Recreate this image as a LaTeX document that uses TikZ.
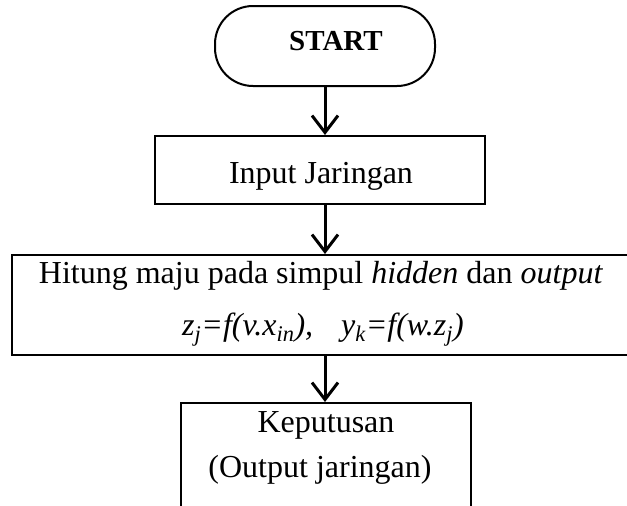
\documentclass[tikz,border=0pt]{standalone}
\usepackage{fontspec}
\setmainfont{Liberation Serif}
\usetikzlibrary{arrows.meta}
\begin{document}
\begin{tikzpicture}[x=1pt,y=-1pt,
  termbox/.style={draw, line width=2pt, rounded corners=38pt, inner sep=0pt},
  procbox/.style={draw, line width=2pt, inner sep=0pt},
  lbl/.style={anchor=base, inner sep=0pt, font=\fontsize{32}{38}\selectfont},
  arr/.style={line width=3pt, -{Straight Barb[length=17pt,width=26pt,line width=3pt]}}
]
\useasboundingbox (0,0) rectangle (627,506);
\clip (0,0) rectangle (627,506);
% shapes
\node[termbox, minimum width=220pt, minimum height=80pt] (start) at (325,46) {};
\node[procbox, minimum width=330pt, minimum height=68pt] (input) at (320,170) {};
\node[procbox, minimum width=630pt, minimum height=100pt] (calc) at (327,305) {};
\node[procbox, minimum width=290pt, minimum height=120pt] (dec) at (326,463) {};
% texts
\node[anchor=base, inner sep=0pt, font=\fontsize{29}{34}\selectfont\bfseries] (starttxt) at (336,50) {START};
\node[lbl] (inputtxt) at (321,183) {Input Jaringan};
\node[lbl] (calctxt) at (321,283) {Hitung maju pada simpul \textit{hidden} dan \textit{output}};
\node[lbl] (formula) at (323,335) {\itshape z\textsubscript{j}=f(v.x\textsubscript{in}),\hspace{28pt}y\textsubscript{k}=f(w.z\textsubscript{j})};
\node[lbl] (dectxt1) at (326,432) {Keputusan};
\node[lbl] (dectxt2) at (320,477) {(Output jaringan)};
% connectors
\draw[arr] (start.south) -- (start.south |- input.north);
\draw[arr] (start.south |- input.south) -- (start.south |- calc.north);
\draw[arr] (start.south |- calc.south) -- (start.south |- dec.north);
\end{tikzpicture}
\end{document}
